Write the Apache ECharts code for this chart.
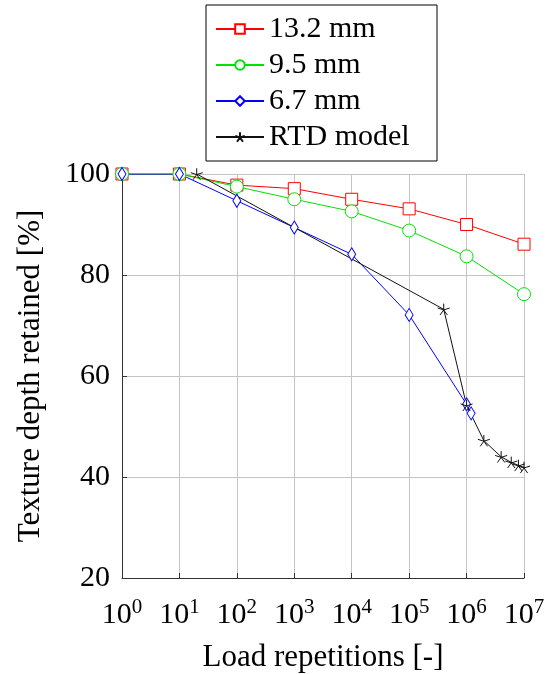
<!DOCTYPE html>
<html><head><meta charset="utf-8">
<script src="https://cdn.jsdelivr.net/npm/echarts@6/dist/echarts.min.js"></script>
<style>html,body{margin:0;padding:0;background:#fff}#c{width:547px;height:674px}</style>
</head><body><div id="c"></div>
<script>
const seriesNames=['13.2 mm','9.5 mm','6.7 mm','RTD model'];
const xTicks=[1,10,100,1000,1e4,1e5,1e6,1e7];
const yTicks=[20,40,60,80,100];
const x132=[1,10,100,1000,1e4,1e5,1e6,1e7];
const y132=[100,100,97.8,97.1,95.0,93.1,90.0,86.1];
const x95=[1,10,100,1000,1e4,1e5,1e6,1e7];
const y95=[100,100,97.5,95.0,92.6,88.8,83.7,76.2];
const x67=[1,10,100,1000,1e4,1e5,1e6,1.2e6];
const y67=[100,100,94.7,89.4,84.1,72.1,54.4,52.6];
const xRTD=[20,4e5,1e6,2e6,4e6,6e6,8e6,1e7];
const yRTD=[100,73.2,54.2,47.2,44.0,42.9,42.3,41.9];

const FONT='"Liberation Serif","DejaVu Serif",serif';
const STAR='path://M0,0L0,-1M0,0L0.951,-0.309M0,0L0.588,0.809M0,0L-0.588,0.809M0,0L-0.951,-0.309';
function pairs(xs,ys){return xs.map((x,i)=>[x,ys[i]]);}
function mk(name,xs,ys,color,symbol,size,fill){
  return {name:name,type:'line',data:pairs(xs,ys),symbol:symbol,symbolSize:size,symbolKeepAspect:true,
    showAllSymbol:true,
    lineStyle:{color:color,width:1},
    itemStyle:{color:fill,borderColor:color,borderWidth:1},
    emphasis:{disabled:true}};
}
const chart=echarts.init(document.getElementById('c'),null,{renderer:'canvas'});
chart.setOption({
  animation:false,
  textStyle:{fontFamily:FONT,color:'#000'},
  grid:{left:122,right:23,top:174,bottom:96,containLabel:false,outerBoundsMode:'none'},
  legend:{orient:'vertical',left:206,top:5,padding:[9,10,9,9],itemWidth:48,itemHeight:12,itemGap:6,
    borderColor:'#000',borderWidth:1,
    textStyle:{fontSize:30,fontFamily:FONT,color:'#000',lineHeight:30,width:158},
    data:seriesNames},
  xAxis:{type:'log',logBase:10,min:xTicks[0],max:xTicks[xTicks.length-1],splitNumber:7,
    name:'Load repetitions [-]',nameLocation:'middle',nameGap:64,
    nameTextStyle:{fontSize:31,fontFamily:FONT,color:'#000'},
    axisLine:{lineStyle:{color:'#333',width:1}},
    axisTick:{inside:true,length:5,lineStyle:{color:'#333'}},
    minorTick:{show:false},
    splitLine:{show:true,lineStyle:{color:'#c4c4c4',width:1}},
    axisLabel:{margin:19,color:'#000',
      formatter:function(v){return '{b|10}{s|'+Math.round(Math.log10(v))+'}';},
      rich:{b:{fontSize:30,fontFamily:FONT,lineHeight:36,color:'#000'},
            s:{fontSize:21,fontFamily:FONT,lineHeight:24,verticalAlign:'top',color:'#000'}}}},
  yAxis:{type:'value',min:yTicks[0],max:yTicks[yTicks.length-1],interval:20,
    name:'Texture depth retained [%]',nameLocation:'middle',nameGap:76,
    nameTextStyle:{fontSize:31,fontFamily:FONT,color:'#000'},
    axisLine:{show:true,lineStyle:{color:'#333',width:1}},
    axisTick:{show:true,inside:true,length:5,lineStyle:{color:'#333'}},
    splitLine:{show:true,lineStyle:{color:'#c4c4c4',width:1}},
    axisLabel:{margin:12,fontSize:30,fontFamily:FONT,color:'#000'}},
  series:[
    mk(seriesNames[0],x132,y132,'#ff0000','rect',12,'#fff'),
    mk(seriesNames[1],x95,y95,'#00e000','circle',13,'#fff'),
    mk(seriesNames[2],x67,y67,'#0000ff','diamond',[8,13],'#fff'),
    mk(seriesNames[3],xRTD,yRTD,'#111111',STAR,12,'none')
  ]
});
</script></body></html>
